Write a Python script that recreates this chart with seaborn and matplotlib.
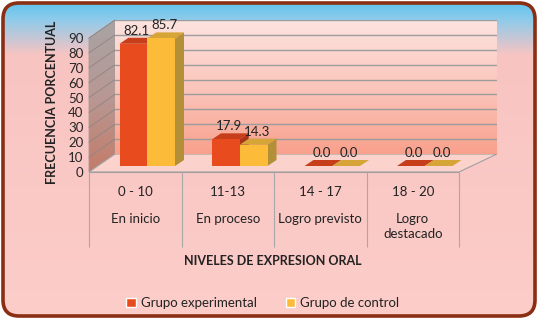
import numpy as np
import pandas as pd
import matplotlib
matplotlib.use("Agg")
import matplotlib.pyplot as plt
import seaborn as sns
from matplotlib.patches import FancyBboxPatch, Polygon, Patch
from matplotlib.colors import LinearSegmentedColormap

# data
rangos = ["0 - 10", "11-13", "14 - 17", "18 - 20"]
niveles = ["En inicio", "En proceso", "Logro previsto", "Logro\ndestacado"]
grupos = ["Grupo experimental", "Grupo de control"]
experimental = [82.1, 17.9, 0.0, 0.0]
control = [85.7, 14.3, 0.0, 0.0]
yticks = list(range(0, 100, 10))

RED, YELLOW = "#E84C1E", "#FDBB3A"
RED_TOP, RED_SIDE = "#C63E1A", "#A9341A"
YEL_TOP, YEL_SIDE = "#D6A437", "#B38F38"
FS = 9.5

df = pd.DataFrame({
    "nivel": rangos * 2,
    "grupo": [grupos[0]] * 4 + [grupos[1]] * 4,
    "valor": experimental + control,
})

sns.set_theme(style="white")
plt.rcParams["font.family"] = ["Lato", "DejaVu Sans"]
plt.rcParams["text.color"] = "#222222"

W, H = 539, 320
fig = plt.figure(figsize=(W / 100, H / 100), dpi=100)
fig.patch.set_facecolor("white")


def box(x0, y0, x1, y1):
    # pixel box (top-left origin) -> figure fraction rect
    return [x0 / W, 1 - y1 / H, (x1 - x0) / W, (y1 - y0) / H]


# background with rounded border
bg = fig.add_axes([0, 0, 1, 1], zorder=-10)
bg.set_xlim(0, W)
bg.set_ylim(H, 0)
bg.axis("off")
bg_cmap = LinearSegmentedColormap.from_list(
    "bg", [(0, "#5BC2EF"), (0.06, "#8FCBEA"), (0.17, "#F8C4C2"), (1, "#FCCDC9")])
grad = np.linspace(0, 1, 256).reshape(-1, 1)
img = bg.imshow(grad, cmap=bg_cmap, extent=[0, W, H, 0], aspect="auto", zorder=0)
frame = FancyBboxPatch((3, 3), W - 7, H - 7, boxstyle="round,pad=0,rounding_size=16",
                       facecolor="none", edgecolor="#8A2E14", linewidth=2.6, zorder=5)
bg.add_patch(frame)
img.set_clip_path(frame)

# front axes (tick labels), back wall axes and bar axes
FX0, FX1, FY90, FY0 = 89, 459, 38, 172
front = fig.add_axes(box(FX0, FY90, FX1, FY0))
back = fig.add_axes(box(115, 20, 497, 154), zorder=-5)
bars = fig.add_axes(box(FX0 + 12, FY90 - 6, FX1 + 12, FY0 - 6), zorder=2)

for a in (front, back, bars):
    a.set_xlim(-0.5, 3.5)
    a.set_ylim(0, 90)
    a.patch.set_alpha(0)
    for s in a.spines.values():
        s.set_visible(False)

# back wall gradient + grid
wall_cmap = LinearSegmentedColormap.from_list("wall", ["#FDE3DF", "#FBC6BC", "#F8A08C"])
back.imshow(np.linspace(0, 1, 256).reshape(-1, 1), cmap=wall_cmap,
            extent=[-0.5, 3.5, 0, 90], aspect="auto", zorder=0)
back.set_ylim(0, 90)
for v in yticks[1:]:
    back.axhline(v, color="#9C9C9C", lw=1.0, zorder=1)
back.set_xticks([])
back.set_yticks([])

# left wall and floor, corners taken from the two axes' scales
to_bg = bg.transData.inverted()


def pt(ax, x, y):
    return to_bg.transform(ax.transData.transform((x, y)))


left_wall = [pt(front, -0.5, 0), pt(front, -0.5, 90), pt(back, -0.5, 90), pt(back, -0.5, 0)]
lw_patch = Polygon(left_wall, closed=True, facecolor="none", edgecolor="#A89A98", lw=0.6, zorder=2)
bg.add_patch(lw_patch)
lw_cmap = LinearSegmentedColormap.from_list("lw", ["#A8A4A4", "#B89894", "#C47A66"])
lw_img = bg.imshow(grad, cmap=lw_cmap, extent=[85, 118, 175, 18], aspect="auto", zorder=1)
lw_img.set_clip_path(lw_patch)
for v in yticks[1:]:
    p0, p1 = pt(front, -0.5, v), pt(back, -0.5, v)
    bg.plot([p0[0], p1[0]], [p0[1], p1[1]], color="#8E8484", lw=0.6, zorder=3)

floor = [pt(front, -0.5, 0), pt(front, 3.5, 0), pt(back, 3.5, 0), pt(back, -0.5, 0)]
bg.add_patch(Polygon(floor, closed=True, facecolor="#FBD2CC", edgecolor="#A0A0A0",
                     lw=0.8, zorder=2))

# bars
sns.barplot(data=df, x="nivel", y="valor", hue="grupo", order=rangos, hue_order=grupos,
            palette=[RED, YELLOW], ax=bars, width=0.6, saturation=1, legend=False,
            linewidth=0, zorder=2)
bars.set_xlim(-0.5, 3.5)
bars.set_ylim(0, 90)
bars.set_xticks([])
bars.set_yticks([])
bars.set_xlabel("")
bars.set_ylabel("")

to_data = bars.transData.inverted()
DX, DY = 9, 6
rects = [p for p in bars.patches]
for i, r in enumerate(rects):
    is_red = i < 4
    top_c, side_c = (RED_TOP, RED_SIDE) if is_red else (YEL_TOP, YEL_SIDE)
    x0, x1 = r.get_x(), r.get_x() + r.get_width()
    h = r.get_height()
    (dx0, dy0), (dx1, dh) = bars.transData.transform([(x0, 0), (x1, h)])
    side = to_data.transform([(dx1, dy0), (dx1, dh), (dx1 + DX, dh + DY), (dx1 + DX, dy0 + DY)])
    top = to_data.transform([(dx0, dh), (dx1, dh), (dx1 + DX, dh + DY), (dx0 + DX, dh + DY)])
    z = 1.5 if is_red else 1.6
    bars.add_patch(Polygon(side, closed=True, facecolor=side_c, lw=0, zorder=z, clip_on=False))
    bars.add_patch(Polygon(top, closed=True, facecolor=top_c, lw=0, zorder=z, clip_on=False))
    bars.annotate(f"{h:.1f}", (r.get_x() + r.get_width() / 2, h), xytext=(3, 7),
                  textcoords="offset pixels", ha="center", va="bottom", fontsize=FS,
                  annotation_clip=False, zorder=5)

# front axis ticks
front.set_yticks(yticks)
front.set_yticklabels([str(v) for v in yticks], fontsize=FS)
front.tick_params(axis="y", length=0, pad=4)
front.set_xticks([])

# category table under the floor
front.hlines(0, -0.5, 3.5, color="#A0A0A0", lw=0.8, clip_on=False)
front.vlines([-0.5, 0.5, 1.5, 2.5, 3.5], 0, -75 / 134, color="#A8A8A8", lw=0.8,
             transform=front.get_xaxis_transform(), clip_on=False)
for i, (rg, nv) in enumerate(zip(rangos, niveles)):
    front.text(i, -20 / 134, rg, transform=front.get_xaxis_transform(), ha="center",
               va="center", fontsize=FS)
    front.text(i, -41 / 134, nv, transform=front.get_xaxis_transform(), ha="center",
               va="top", fontsize=FS, linespacing=1.35)

fig.text(273 / W, 1 - 261 / H, "NIVELES DE EXPRESION ORAL", ha="center", va="center",
         fontsize=9, fontweight="bold")
fig.text(52 / W, 1 - 102 / H, "FRECUENCIA PORCENTUAL", ha="center", va="center",
         rotation=90, fontsize=9, fontweight="bold")

handles = [Patch(facecolor=RED, label=grupos[0]), Patch(facecolor=YELLOW, label=grupos[1])]
fig.legend(handles=handles, loc="center", bbox_to_anchor=(263 / W, 1 - 303 / H), ncol=2,
           frameon=False, fontsize=FS, handlelength=0.7, handleheight=0.7,
           handletextpad=0.4, columnspacing=2.2)

fig.savefig("out.png", dpi=100)
